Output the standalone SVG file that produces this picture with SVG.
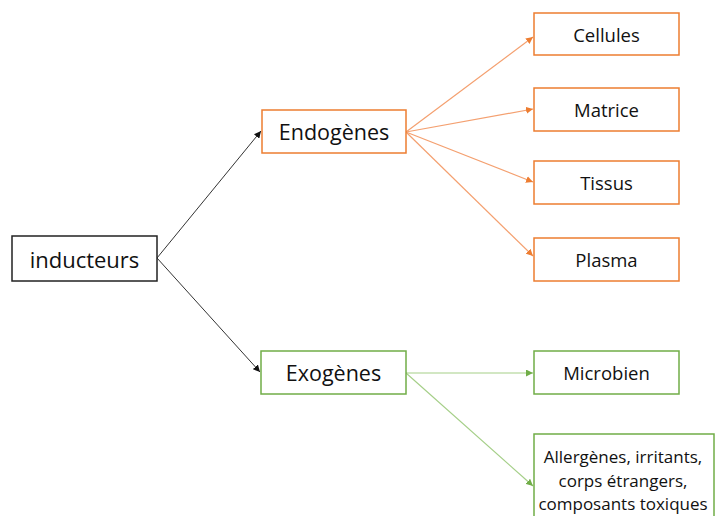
<svg xmlns="http://www.w3.org/2000/svg" width="715" height="516" viewBox="0 0 715 516">
<defs>
<style>
.t{font-family:"Open Sans","Noto Sans",sans-serif;fill:#111;text-anchor:middle;dominant-baseline:central}
.bk{fill:#fff;stroke:#222;stroke-width:1.5}
.or{fill:#fff;stroke:#ED7D31;stroke-width:1.5}
.gr{fill:#fff;stroke:#70AD47;stroke-width:1.5}
.lk{stroke:#333;stroke-width:1;fill:none}
.lo{stroke:#F4A070;stroke-width:1.2;fill:none}
.lg{stroke:#A5CF88;stroke-width:1.2;fill:none}
</style>
<marker id="ak" viewBox="0 0 10 10" refX="10" refY="5" markerWidth="7" markerHeight="7" orient="auto" markerUnits="userSpaceOnUse"><path d="M0,0L10,5L0,10z" fill="#111"/></marker>
<marker id="ao" viewBox="0 0 10 10" refX="10" refY="5" markerWidth="7" markerHeight="7" orient="auto" markerUnits="userSpaceOnUse"><path d="M0,0L10,5L0,10z" fill="#ED7D31"/></marker>
<marker id="ag" viewBox="0 0 10 10" refX="10" refY="5" markerWidth="7" markerHeight="7" orient="auto" markerUnits="userSpaceOnUse"><path d="M0,0L10,5L0,10z" fill="#70AD47"/></marker>
</defs>
<rect width="715" height="516" fill="#fff"/>
<g id="connectors">
<line class="lk" x1="157" y1="258" x2="261" y2="131" marker-end="url(#ak)"/>
<line class="lk" x1="157" y1="258" x2="260" y2="372" marker-end="url(#ak)"/>
<line class="lo" x1="406" y1="132" x2="533" y2="37" marker-end="url(#ao)"/>
<line class="lo" x1="406" y1="132" x2="533" y2="109" marker-end="url(#ao)"/>
<line class="lo" x1="406" y1="132" x2="533" y2="182" marker-end="url(#ao)"/>
<line class="lo" x1="406" y1="132" x2="533" y2="256" marker-end="url(#ao)"/>
<line class="lg" x1="406" y1="373" x2="533" y2="373" marker-end="url(#ag)"/>
<line class="lg" x1="406" y1="373" x2="533" y2="486" marker-end="url(#ag)"/>
</g>
<g id="inducteurs"><rect class="bk" x="12" y="236" width="145" height="45"/><text class="t" x="84.5" y="258.5" font-size="22">inducteurs</text></g>
<g id="endogenes"><rect class="or" x="262" y="110" width="144" height="43"/><text class="t" x="334" y="131.5" font-size="21.5">Endogènes</text></g>
<g id="exogenes"><rect class="gr" x="261" y="351" width="145" height="43"/><text class="t" x="333.5" y="372.5" font-size="21.5">Exogènes</text></g>
<g id="cellules"><rect class="or" x="534" y="13" width="145" height="42"/><text class="t" x="606.5" y="34" font-size="18.5">Cellules</text></g>
<g id="matrice"><rect class="or" x="534" y="88" width="145" height="43"/><text class="t" x="606.5" y="109.5" font-size="18.5">Matrice</text></g>
<g id="tissus"><rect class="or" x="534" y="161" width="145" height="43"/><text class="t" x="606.5" y="182.5" font-size="18.5">Tissus</text></g>
<g id="plasma"><rect class="or" x="534" y="238" width="145" height="43"/><text class="t" x="606.5" y="259.5" font-size="18.5">Plasma</text></g>
<g id="microbien"><rect class="gr" x="534" y="351" width="145" height="43"/><text class="t" x="606.5" y="372.5" font-size="18.5">Microbien</text></g>
<g id="allergenes"><rect class="gr" x="534" y="434" width="180" height="100"/>
<text class="t" x="623" y="456" font-size="17">Allergènes, irritants,</text>
<text class="t" x="623" y="480" font-size="17">corps étrangers,</text>
<text class="t" x="623" y="503" font-size="17">composants toxiques</text></g>
</svg>
